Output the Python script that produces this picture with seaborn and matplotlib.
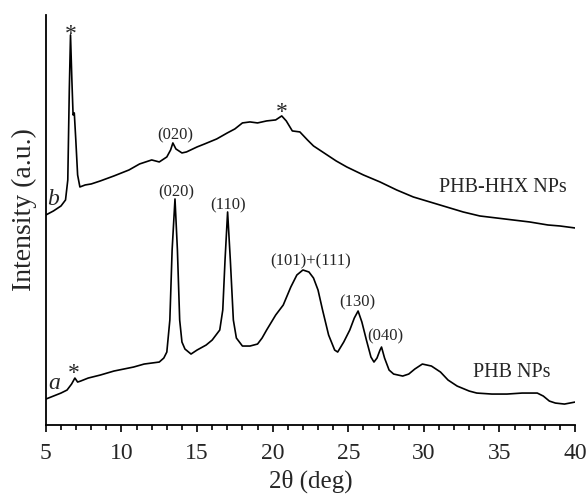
import pandas as pd
import seaborn as sns
from matplotlib import pyplot as plt
from matplotlib.ticker import MultipleLocator

# PHB-HHX NPs (curve b), 2theta in deg, intensity in a.u.
two_theta_b = [5.0, 5.5, 6.0, 6.3, 6.45, 6.55, 6.63, 6.72, 6.8, 6.88, 6.98, 7.1, 7.25,
               7.6, 8.0, 8.6, 9.5, 10.5, 11.2, 12.0, 12.5, 13.0, 13.25, 13.4, 13.6,
               14.0, 14.3, 15.0, 15.5, 16.3, 17.0, 17.5, 18.0, 18.5, 19.0, 19.6, 20.2,
               20.6, 20.9, 21.3, 21.8, 22.3, 22.7, 23.5, 24.2, 24.9, 26.0, 27.1, 28.2,
               29.3, 30.4, 31.5, 32.6, 33.7, 34.8, 35.9, 37.0, 38.2, 39.0, 40.0]
intensity_b = [210, 214, 219, 225, 245, 335, 390, 345, 310, 312, 285, 250, 238,
               240, 241, 244, 249, 255, 261, 265, 263, 268, 275, 282, 276,
               272, 273, 278, 281, 286, 292, 296, 302, 303, 302, 304, 305,
               309, 304, 294, 293, 285, 279, 271, 264, 258, 250, 243, 235,
               228, 223, 218, 213, 209, 207, 205, 203, 200, 199, 197]

# PHB NPs (curve a)
two_theta_a = [5.0, 5.5, 6.0, 6.4, 6.7, 6.92, 7.1, 7.3, 7.8, 8.6, 9.5, 10.8, 11.5, 12.5,
               12.8, 13.0, 13.2, 13.35, 13.54, 13.7, 13.85, 14.0, 14.2, 14.6, 15.0,
               15.6, 16.0, 16.5, 16.7, 16.85, 17.02, 17.2, 17.4, 17.6, 18.0, 18.5,
               19.0, 19.3, 19.6, 20.2, 20.7, 21.2, 21.6, 22.0, 22.4, 22.7, 23.0, 23.3,
               23.7, 24.1, 24.3, 24.7, 25.1, 25.4, 25.65, 25.9, 26.2, 26.5, 26.7,
               26.9, 27.1, 27.2, 27.4, 27.7, 28.0, 28.6, 29.0, 29.4, 29.9, 30.5,
               31.1, 31.6, 32.2, 33.0, 33.5, 34.5, 35.5, 36.5, 37.5, 37.9, 38.3,
               38.7, 39.3, 40.0]
intensity_a = [26, 29, 32, 35, 41, 47, 43, 44, 47, 50, 54, 58, 61, 63,
               67, 73, 105, 175, 226, 175, 105, 83, 76, 71, 75,
               80, 85, 95, 115, 165, 213, 165, 105, 87, 79, 79,
               81, 87, 95, 110, 120, 138, 150, 155, 153, 147, 135, 115,
               90, 75, 73, 83, 95, 107, 114, 103, 85, 68, 63,
               67, 75, 78, 67, 55, 51, 49, 51, 56, 61, 59,
               53, 45, 39, 34, 32, 31, 31, 32, 32, 29, 24,
               22, 21, 23]

peak_labels = ["(020)", "(110)", "(101)+(111)", "(130)", "(040)"]
peak_label_x = [13.6, 17.08, 22.54, 25.6, 27.43]
peak_label_y = [233, 220, 164, 123, 89]

df_b = pd.DataFrame({"two_theta": two_theta_b, "intensity": intensity_b})
df_a = pd.DataFrame({"two_theta": two_theta_a, "intensity": intensity_a})

sns.set_style("ticks")
plt.rcParams["font.family"] = ["Liberation Serif", "DejaVu Serif"]

fig = plt.figure(figsize=(5.88, 4.96), dpi=100)
ax = fig.add_axes([0.078, 0.143, 0.900, 0.827])

sns.lineplot(data=df_b, x="two_theta", y="intensity", color="black", lw=1.2, ax=ax)
sns.lineplot(data=df_a, x="two_theta", y="intensity", color="black", lw=1.2, ax=ax)

for lab, x, y in zip(peak_labels, peak_label_x, peak_label_y):
    ax.text(x, y, lab, fontsize=12, ha="center", va="center")
ax.text(13.54, 290, "(020)", fontsize=12, ha="center", va="center")

# asterisks
ax.text(6.65, 390, "*", fontsize=17, ha="center", va="center")
ax.text(20.6, 312, "*", fontsize=17, ha="center", va="center")
ax.text(6.85, 52, "*", fontsize=17, ha="center", va="center")

ax.text(5.46, 225, "b", fontsize=17, style="italic", ha="center", va="center")
ax.text(5.53, 42, "a", fontsize=17, style="italic", ha="center", va="center")
ax.text(35.2, 237, "PHB-HHX NPs", fontsize=14.5, ha="center", va="center")
ax.text(35.8, 53, "PHB NPs", fontsize=14.5, ha="center", va="center")

ax.set_xlim(5, 40)
ax.set_ylim(0, 410)
ax.xaxis.set_major_locator(MultipleLocator(5))
ax.xaxis.set_minor_locator(MultipleLocator(1))
ax.set_yticks([])
ax.tick_params(axis="x", which="major", direction="out", length=5, width=1.2,
               labelsize=17, pad=8, color="black")
ax.tick_params(axis="x", which="minor", direction="out", length=3.5, width=1.2,
               color="black")
ax.set_xlabel("2θ (deg)", fontsize=18, labelpad=4)
ax.set_ylabel("Intensity (a.u.)", fontsize=20)
ax.yaxis.set_label_coords(-0.016, 0.525)
for s in ["left", "bottom"]:
    ax.spines[s].set_linewidth(1.3)
    ax.spines[s].set_color("black")
sns.despine(ax=ax)

fig.savefig("out.png", dpi=100)
